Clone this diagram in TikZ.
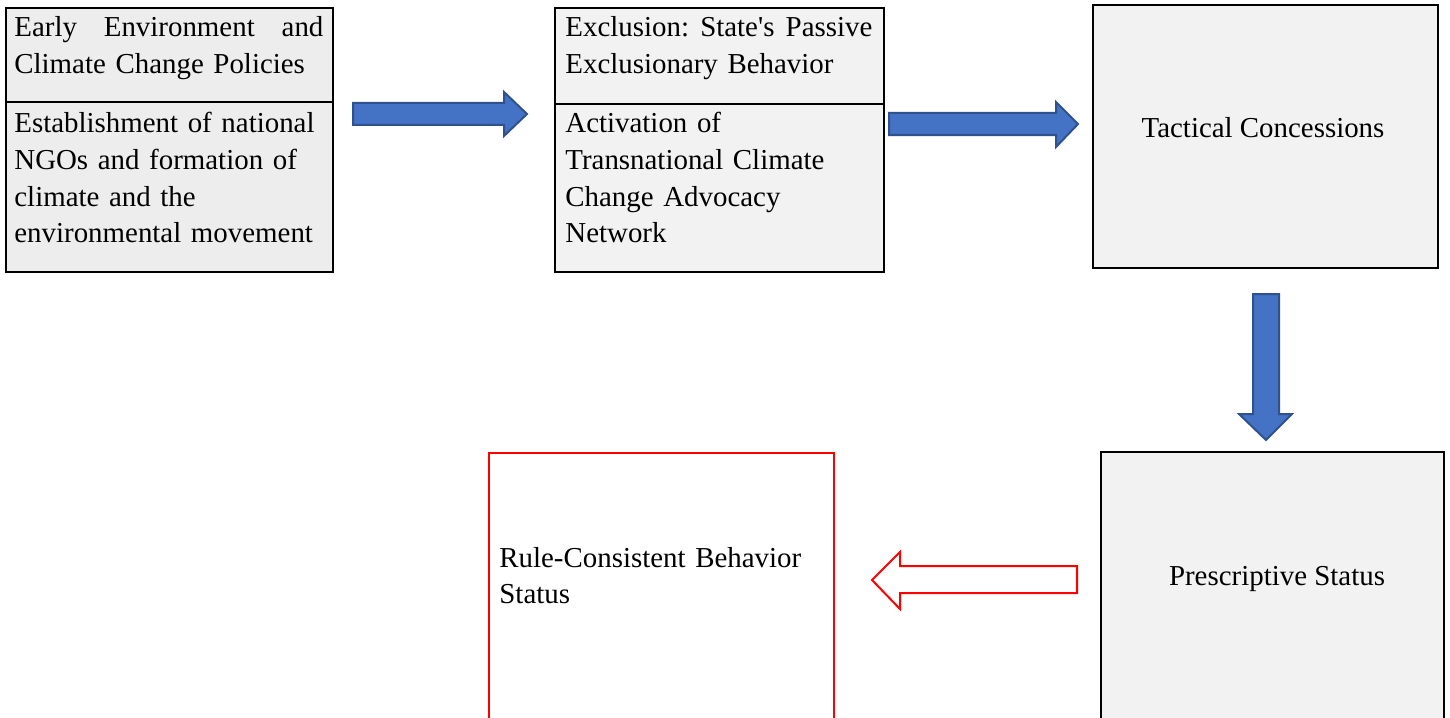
\documentclass[tikz,border=0pt]{standalone}
\usepackage{fontspec}
\setmainfont{Liberation Serif}
\definecolor{arrblue}{HTML}{4472C4}
\definecolor{arrborder}{HTML}{2F528F}
\definecolor{gA}{HTML}{EDEDED}
\definecolor{gB}{HTML}{F2F2F2}
\definecolor{redline}{HTML}{FF0000}
\tikzset{
  grbox/.style={draw=black, line width=1pt, fill=#1, anchor=north west, inner sep=0pt, outer sep=0pt},
  redbox/.style={draw=redline, line width=1pt, fill=white, anchor=north west, inner sep=0pt, outer sep=0pt},
  txt/.style={font=\fontsize{14.45pt}{18.25pt}\selectfont\frenchspacing, inner sep=0pt, anchor=base west, text width=#1, align=left},
  ctxt/.style={font=\fontsize{14.45pt}{18.25pt}\selectfont\frenchspacing, inner sep=0pt, anchor=base},
  divider/.style={draw=black, line width=0.8pt},
  blockarrow/.style={fill=arrblue, draw=arrborder, line width=1pt, line join=miter},
  redarrow/.style={fill=white, draw=redline, line width=1pt, line join=miter},
}
\begin{document}
\begin{tikzpicture}[x=0.5pt, y=-0.5pt]
\useasboundingbox (0,0) rectangle (1450,717);
\clip (0,0) rectangle (1450,717);
\fill[white] (0,0) rectangle (1450,717);

% Box 1
\node[grbox=gA, minimum width=163.5pt, minimum height=132pt] (b1) at (6,8) {};
\draw[divider] (b1.west |- 0,102) -- (b1.east |- 0,102);
\node[txt=160pt] (t1a) at (14,37) {\makebox[154.5pt][l]{Early\hfill Environment\hfill and}\\Climate Change Policies};
\node[txt=160pt] (t1b) at (14,133) {Establishment of national\\NGOs and formation of\\climate and the\\environmental movement};

% Box 2
\node[grbox=gB, minimum width=164.5pt, minimum height=132pt] (b2) at (555,8) {};
\draw[divider] (b2.west |- 0,104) -- (b2.east |- 0,104);
\node[txt=160pt] (t2a) at (565,37) {\makebox[153.5pt][l]{Exclusion:\hfill State\textquotesingle s\hfill Passive}\\Exclusionary Behavior};
\node[txt=160pt] (t2b) at (565,133) {Activation of\\Transnational Climate\\Change Advocacy\\Network};

% Box 3
\node[grbox=gB, minimum width=172.5pt, minimum height=131.5pt] (b3) at (1093,5) {};
\node[ctxt] (t3) at (1263,137) {Tactical Concessions};

% Box 4
\node[grbox=gB, minimum width=171.5pt, minimum height=150pt] (b4) at (1101,452) {};
\node[ctxt] (t4) at (1277,585) {Prescriptive Status};

% Red box
\node[redbox, minimum width=172.5pt, minimum height=150pt] (b5) at (489,453) {};
\node[txt=170pt] (t5) at (499,567) {Rule-Consistent Behavior\\Status};

% Block arrows
\draw[blockarrow] (353,103) -- (504,103) -- (504,92) -- (527,114) -- (504,136) -- (504,125) -- (353,125) -- cycle;
\draw[blockarrow] (889,113) -- (1056,113) -- (1056,102) -- (1078,124) -- (1056,147) -- (1056,135) -- (889,135) -- cycle;
\draw[blockarrow] (1253,294) -- (1279,294) -- (1279,414) -- (1292,414) -- (1266,440) -- (1239,414) -- (1253,414) -- cycle;
\draw[redarrow] (1077,566) -- (900,566) -- (900,552) -- (872,580) -- (900,609) -- (900,593) -- (1077,593) -- cycle;
\end{tikzpicture}
\end{document}
